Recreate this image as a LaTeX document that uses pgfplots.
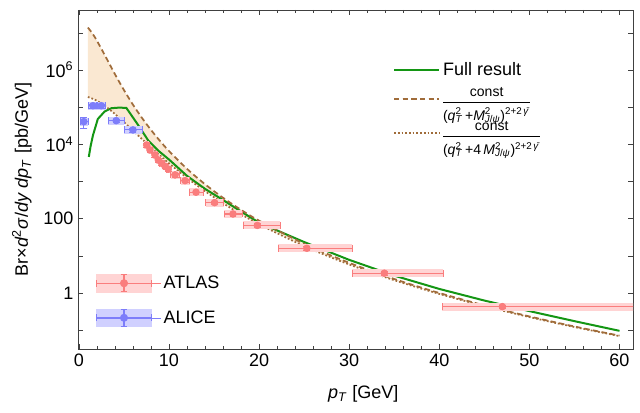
\documentclass[border=0pt]{standalone}
\usepackage{fontspec}
\setmainfont{Liberation Sans}
\usepackage{pgfplots}
\pgfplotsset{compat=1.18}
\usepackage{pgfplotstable}
\usepgfplotslibrary{fillbetween}

\definecolor{fullgreen}{RGB}{20,150,20}
\definecolor{brn}{RGB}{160,108,58}
\definecolor{peach}{RGB}{250,232,210}
\definecolor{atlasred}{RGB}{250,125,125}
\definecolor{atlasband}{RGB}{255,212,212}
\definecolor{alicebl}{RGB}{125,125,250}
\definecolor{aliceband}{RGB}{208,208,255}

\newcommand{\supsub}[2]{\rlap{\textsuperscript{#1}}\textsubscript{#2}}
\newcommand{\denA}{(\textit{q}\supsub{2}{\textit{T}}\,+\textit{M}\supsub{2}{\textit{J}/\textit{ψ}})\textsuperscript{2+2\,\textit{γ̄}}}
\newcommand{\denB}{(\textit{q}\supsub{2}{\textit{T}}\,+4\,\textit{M}\supsub{2}{\textit{J}/\textit{ψ}})\textsuperscript{2+2\,\textit{γ̄}}}
\newcommand{\fracleg}[1]{{\fontsize{10.5}{11}\selectfont\begin{tabular}{@{}c@{}}const\\[0.5pt]\hline\rule{0pt}{13.5pt}#1\rule[-3pt]{0pt}{3pt}\end{tabular}}}

\pgfplotstableread{
x U L
1 1.38e7 1.87e5
1.5 9.59e6 1.69e5
2 6.11e6 1.48e5
3 2.19e6 1.03e5
4 7.69e5 6.53e4
5 2.87e5 3.95e4
6 1.16e5 2.34e4
7 5.12e4 1.38e4
8 2.43e4 8.22e3
9 1.23e4 4.98e3
10 6.59e3 3.07e3
12 2.18e3 1.24e3
14 839 547
16 363 259
18 172 131
20 87.9 70.5
25 21.0 18.2
30 6.46 5.82
35 2.37 2.20
40 0.995 0.940
45 0.462 0.442
50 0.233 0.224
55 0.125 0.121
60 0.0708 0.0690
}\curves

\pgfplotstableread{
x G
1.1 4570
1.3 8900
1.56 17400
2.1 47900
2.85 75900
3.6 93300
4.4 96600
5.26 95500
6 52500
6.37 38900
7 22900
7.7 12600
8.8 6760
10 3890
12 1410
14 631
16 316
18 155
20 77.6
25 23.4
30 7.76
35 2.92
40 1.28
45 0.624
50 0.324
55 0.174
60 0.0955
}\full

\pgfplotstableread{
x y xm xp ey
7.52 9550 0.25 0.25 0.12
7.89 7030 0.25 0.25 0.12
8.44 5160 0.25 0.25 0.12
8.81 3790 0.25 0.25 0.12
9.19 3080 0.25 0.25 0.12
9.56 2530 0.25 0.25 0.12
9.92 2130 0.25 0.25 0.12
10.67 1500 0.5 0.5 0.12
11.78 1050 0.5 0.5 0.12
13.0 512 0.75 0.75 0.12
15.06 269 1 1 0.12
17.1 133 1 1 0.12
19.8 65.5 1.6 2.5 0.12
25.3 15.9 3.2 5.0 0.12
33.9 3.39 3.6 6.5 0.12
47.0 0.428 6.7 23 0.12
}\atlas

\pgfplotstableread{
x y xm xp ey
0.55 40600 0.45 0.45 0.35
1.56 109000 0.5 0.5 0.12
2.48 109000 0.5 0.5 0.12
4.14 43200 0.9 0.9 0.12
6.0 24300 1.0 1.0 0.12
}\alice

\begin{document}
\begin{tikzpicture}
\begin{axis}[name=main,
  scale only axis, width=416.25pt, height=254.25pt,
  xmin=-0.1, xmax=61.5, ymin=0.031, ymax=4.1e7, ymode=log,
  axis line style={black!75}, tick style={black!75},
  major tick length=4pt, minor tick length=2pt,
  xtick={0,10,...,60}, minor x tick num=4,
  ytick={0.1,1,10,100,1000,1e4,1e5,1e6,1e7},
  yticklabels={,1,,100,,10\textsuperscript{4},,10\textsuperscript{6},},
  yminorticks=false,
  /pgf/number format/assume math mode=true,
  tick label style={font=\fontsize{13.5}{15}\selectfont},
  label style={font=\fontsize{13.5}{15}\selectfont},
  xlabel={\textit{p}\textsubscript{\textit{T}} [GeV]},
  ylabel={Br×\textit{d}\textsuperscript{2}\textit{σ}/\textit{dy} \textit{dp}\textsubscript{\textit{T}} [pb/GeV]},
  xlabel style={at={(axis description cs:0.514,-0.133)}, anchor=center},
  ylabel style={at={(axis description cs:-0.101,0.5)}, anchor=center},
  legend style={at={(axis description cs:0.56,0.863)}, anchor=north west,
    draw=none, fill=none, font=\fontsize{13.5}{15}\selectfont, row sep=3pt},
  legend cell align=left,
  legend image code/.code={\draw[#1] (0pt,0pt) -- (30pt,0pt); \path (0pt,0pt) -- (34pt,0pt);},
]
\addplot[draw=none, smooth, name path=U, forget plot] table[x=x,y=U]{\curves};
\addplot[draw=none, smooth, name path=L, forget plot] table[x=x,y=L]{\curves};
\addplot[fill=peach, draw=none, forget plot] fill between[of=U and L];
\addplot[fullgreen, line width=1.5pt] table[x=x,y=G]{\full};
\addlegendentry{Full result}
\addplot[brn, line width=1.3pt, smooth, dash pattern=on 4pt off 2.5pt] table[x=x,y=U]{\curves};
\addlegendentry{\fracleg{\denA}}
\addplot[brn, line width=1.3pt, smooth, dash pattern=on 1.3pt off 1.5pt] table[x=x,y=L]{\curves};
\addlegendentry{\fracleg{\denB}}
\end{axis}

\begin{axis}[at={(main.south west)}, anchor=south west, hide axis,
  scale only axis, width=416.25pt, height=254.25pt,
  xmin=-0.1, xmax=61.5, ymin=0.031, ymax=4.1e7, ymode=log,
  legend style={at={(axis description cs:0.025,0.232)}, anchor=north west,
    draw=none, fill=none, font=\fontsize{13.5}{15}\selectfont, row sep=11pt},
  legend cell align=left,
]
\addplot[only marks, mark=none, forget plot,
  error bars/.cd, x dir=both, x explicit,
  error bar style={line width=6pt, atlasband}, error mark=none]
  table[x=x, y=y, x error minus=xm, x error plus=xp]{\atlas};
\addplot[only marks, mark=none, forget plot,
  error bars/.cd, x dir=both, x explicit,
  error bar style={line width=6pt, aliceband}, error mark=none]
  table[x=x, y=y, x error minus=xm, x error plus=xp]{\alice};
\addplot[only marks, mark=*, mark size=2.6pt, atlasred,
  legend image code/.code={
    \fill[atlasband] (0pt,-6.5pt) rectangle (41pt,6.5pt);
    \draw[atlasred, line width=0.8pt] (0pt,0pt) -- (41pt,0pt);
    \draw[atlasred, line width=0.8pt] (0pt,-2.5pt)--(0pt,2.5pt) (41pt,-2.5pt)--(41pt,2.5pt);
    \draw[atlasred, line width=0.8pt] (20.5pt,-6.5pt)--(20.5pt,6.5pt) (18pt,-6.5pt)--(23pt,-6.5pt) (18pt,6.5pt)--(23pt,6.5pt);
    \fill[atlasred] (20.5pt,0pt) circle (2.8pt);
    \path (0pt,0pt) -- (48pt,0pt);},
  error bars/.cd, x dir=both, x explicit, y dir=both, y explicit relative,
  error bar style={line width=0.8pt}]
  table[x=x, y=y, x error minus=xm, x error plus=xp, y error=ey]{\atlas};
\addlegendentry{ATLAS}
\addplot[only marks, mark=*, mark size=2.6pt, alicebl,
  legend image code/.code={
    \fill[aliceband] (0pt,-6.5pt) rectangle (41pt,6.5pt);
    \draw[alicebl, line width=0.8pt] (0pt,0pt) -- (41pt,0pt);
    \draw[alicebl, line width=0.8pt] (0pt,-2.5pt)--(0pt,2.5pt) (41pt,-2.5pt)--(41pt,2.5pt);
    \draw[alicebl, line width=0.8pt] (20.5pt,-6.5pt)--(20.5pt,6.5pt) (18pt,-6.5pt)--(23pt,-6.5pt) (18pt,6.5pt)--(23pt,6.5pt);
    \fill[alicebl] (20.5pt,0pt) circle (2.8pt);
    \path (0pt,0pt) -- (48pt,0pt);},
  error bars/.cd, x dir=both, x explicit, y dir=both, y explicit relative,
  error bar style={line width=0.8pt}]
  table[x=x, y=y, x error minus=xm, x error plus=xp, y error=ey]{\alice};
\addlegendentry{ALICE}
\end{axis}
\pgfresetboundingbox
\path ([shift={(-58.5pt,-48pt)}]main.south west) rectangle ([shift={(5.25pt,7.5pt)}]main.north east);
\end{tikzpicture}
\end{document}
